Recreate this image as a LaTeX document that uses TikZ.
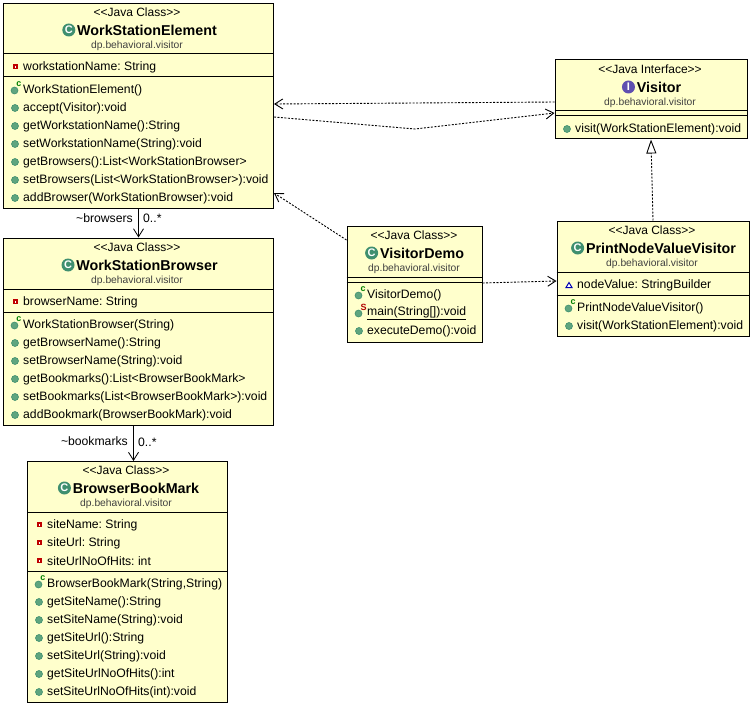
\documentclass[tikz,border=0pt]{standalone}
\usepackage{fontspec}
\setmainfont{Liberation Sans}
\usetikzlibrary{arrows.meta,positioning}

\definecolor{cajaFondo}{HTML}{FFFFCC}
\definecolor{verdeIcono}{HTML}{5FA57F}
\definecolor{verdeClase}{HTML}{3F8F6F}
\definecolor{moradoIcono}{HTML}{5F4FB0}

\tikzset{
	clase/.style={draw=black,fill=cajaFondo,line width=1pt,inner sep=0pt},
	estereotipo/.style={inner sep=0pt,font=\fontsize{12}{12}\selectfont},
	nombre/.style={inner sep=0pt,font=\fontsize{14.3}{14}\selectfont\bfseries},
	paquete/.style={inner sep=0pt,text=black!75,font=\fontsize{10.3}{10}\selectfont},
	miembro/.style={inner sep=0pt,anchor=west,yshift=-1.5pt,font=\fontsize{12.2}{12}\selectfont\frenchspacing},
	icono/.style={circle,inner sep=0pt,minimum size=13pt,fill=#1,text=white,font=\fontsize{11}{11}\selectfont\bfseries},
	punto/.style={fill=verdeIcono,draw=verdeClase,line width=.6pt},
	privado/.style={fill=white,draw=red!75!black,line width=1.2pt},
	marca/.style={inner sep=0pt,font=\fontsize{9}{9}\selectfont\bfseries},
	uso/.style={line width=.9pt,dash pattern=on 2pt off 1.5pt,-{Straight Barb[length=8pt,width=10pt]}},
	asociacion/.style={line width=.8pt,-{Straight Barb[length=8pt,width=10pt]}},
	etiqueta/.style={inner sep=0pt,font=\fontsize{12.2}{12}\selectfont}
}

\begin{document}
\begin{tikzpicture}[x=1pt,y=-1pt]
\useasboundingbox (0,0) rectangle (752,706);

%Cajas de las clases
\node [clase,minimum width=270pt,minimum height=205pt] (wsElement) at (138.5,106) {};
\node [clase,minimum width=270pt,minimum height=187pt] (wsBrowser) at (138.5,331.5) {};
\node [clase,minimum width=200pt,minimum height=241pt] (bookMark) at (127.5,582) {};
\node [clase,minimum width=192pt,minimum height=79pt] (visitor) at (651,99.5) {};
\node [clase,minimum width=135pt,minimum height=116pt] (visitorDemo) at (414.5,284) {};
\node [clase,minimum width=192pt,minimum height=115pt] (printVisitor) at (653,278.5) {};

%Lineas que separan los compartimentos
\foreach \c/\y in {wsElement/54,wsElement/77,wsBrowser/289,wsBrowser/312,bookMark/512,bookMark/571,visitor/111,visitor/116,visitorDemo/277,visitorDemo/282,printVisitor/272,printVisitor/295}
	\draw [line width=1pt] (\c.west |- 0,\y) -- (\c.east |- 0,\y);

%Cabeceras
\node [estereotipo] (wsElementTipo) at (137,12.5) {<{}<Java Class>{}>};
\node [nombre] (wsElementNombre) at (147,30) {WorkStationElement};
\node [icono=verdeClase,left=1.5pt of wsElementNombre] (wsElementIcono) {C};
\node [paquete] (wsElementPaquete) at (137,46) {dp.behavioral.visitor};

\node [estereotipo] (wsBrowserTipo) at (137,247.5) {<{}<Java Class>{}>};
\node [nombre] (wsBrowserNombre) at (147,265) {WorkStationBrowser};
\node [icono=verdeClase,left=1.5pt of wsBrowserNombre] (wsBrowserIcono) {C};
\node [paquete] (wsBrowserPaquete) at (137,281) {dp.behavioral.visitor};

\node [estereotipo] (bookMarkTipo) at (126,470.5) {<{}<Java Class>{}>};
\node [nombre] (bookMarkNombre) at (136,488) {BrowserBookMark};
\node [icono=verdeClase,left=1.5pt of bookMarkNombre] (bookMarkIcono) {C};
\node [paquete] (bookMarkPaquete) at (126,504) {dp.behavioral.visitor};

\node [estereotipo] (visitorTipo) at (650,69.5) {<{}<Java Interface>{}>};
\node [nombre] (visitorNombre) at (659,87) {Visitor};
\node [icono=moradoIcono,left=1.5pt of visitorNombre] (visitorIcono) {I};
\node [paquete] (visitorPaquete) at (650,103) {dp.behavioral.visitor};

\node [estereotipo] (visitorDemoTipo) at (414,235.5) {<{}<Java Class>{}>};
\node [nombre] (visitorDemoNombre) at (422,253) {VisitorDemo};
\node [icono=verdeClase,left=1.5pt of visitorDemoNombre] (visitorDemoIcono) {C};
\node [paquete] (visitorDemoPaquete) at (414,269) {dp.behavioral.visitor};

\node [estereotipo] (printVisitorTipo) at (652,230.5) {<{}<Java Class>{}>};
\node [nombre] (printVisitorNombre) at (661,248) {PrintNodeValueVisitor};
\node [icono=verdeClase,left=1.5pt of printVisitorNombre] (printVisitorIcono) {C};
\node [paquete] (printVisitorPaquete) at (652,264) {dp.behavioral.visitor};

%Atributos privados
\foreach \x/\c/\y/\t in {23/wsElement/66/{workstationName: String},23/wsBrowser/301/{browserName: String},47/bookMark/524/{siteName: String},47/bookMark/542/{siteUrl: String},47/bookMark/560/{siteUrlNoOfHits: int}}{
	\draw [privado] (\x-9,\y-1) rectangle (\x-6,\y+2.6);
	\node [miembro] (\c Atributo\y) at (\x,\y) {\t};
}
%Atributo de paquete
\draw [fill=white,draw=blue!70!black,line width=1pt] (566,287.5) -- (572,287.5) -- (569,282.5) -- cycle;
\node [miembro] (printVisitorAtributo) at (577,284) {nodeValue: StringBuilder};

%Metodos publicos
\foreach \x/\c/\y/\t in {
	23/wsElement/107/{accept(Visitor):void},
	23/wsElement/125/{getWorkstationName():String},
	23/wsElement/143/{setWorkstationName(String):void},
	23/wsElement/161/{getBrowsers():List<WorkStationBrowser>},
	23/wsElement/179/{setBrowsers(List<WorkStationBrowser>):void},
	23/wsElement/197/{addBrowser(WorkStationBrowser):void},
	23/wsBrowser/342/{getBrowserName():String},
	23/wsBrowser/360/{setBrowserName(String):void},
	23/wsBrowser/378/{getBookmarks():List<BrowserBookMark>},
	23/wsBrowser/396/{setBookmarks(List<BrowserBookMark>):void},
	23/wsBrowser/414/{addBookmark(BrowserBookMark):void},
	47/bookMark/601/{getSiteName():String},
	47/bookMark/619/{setSiteName(String):void},
	47/bookMark/637/{getSiteUrl():String},
	47/bookMark/655/{setSiteUrl(String):void},
	47/bookMark/673/{getSiteUrlNoOfHits():int},
	47/bookMark/691/{setSiteUrlNoOfHits(int):void},
	575/visitor/128/{visit(WorkStationElement):void},
	367/visitorDemo/330/{executeDemo():void},
	577/printVisitor/325/{visit(WorkStationElement):void}}{
	\draw [punto] (\x-8,\y+1) circle (3.5);
	\node [miembro] (\c Metodo\y) at (\x,\y) {\t};
}

%Constructores y metodo estatico
\foreach \x/\c/\y/\t in {
	23/wsElement/89/{WorkStationElement()},
	23/wsBrowser/324/{WorkStationBrowser(String)},
	47/bookMark/583/{BrowserBookMark(String,String)},
	367/visitorDemo/294/{VisitorDemo()},
	577/printVisitor/307/{PrintNodeValueVisitor()}}{
	\draw [punto] (\x-8.5,\y+1.5) circle (3.5);
	\node [marca,text=green!50!black] (\c Marca\y) at (\x-4,\y-4.5) {c};
	\node [miembro] (\c Metodo\y) at (\x,\y) {\t};
}
\draw [punto] (358.5,313.5) circle (3.5);
\node [marca,text=red!70!black] (visitorDemoMarca) at (363.5,307) {S};
\node [miembro] (visitorDemoMain) at (367,312) {\underline{main(String[]):void}};

%Dependencias punteadas
\draw [uso] ([yshift=-2.5pt]visitor.west) -- ([yshift=2pt]wsElement.east);
\draw [uso] ([yshift=-11pt]wsElement.east) -- (415,129) -- ([yshift=-13.5pt]visitor.west);
\draw [uso] ([yshift=44pt]visitorDemo.west) -- ([yshift=-87pt]wsElement.east);
\draw [uso] ([yshift=1pt]visitorDemo.east) -- ([yshift=-2.5pt]printVisitor.west);
\draw [line width=.9pt,dash pattern=on 2pt off 1.5pt,-{Triangle[open,length=14pt,width=10pt,fill=white]}] (printVisitor.north) -- (visitor.south);

%Asociaciones
\draw [asociacion] (wsElement.south) -- (wsBrowser.north);
\draw [asociacion] ([xshift=6pt]bookMark.north |- wsBrowser.south) -- ([xshift=6pt]bookMark.north);
\node [etiqueta,anchor=east] (browsersRol) at (133,218) {\textasciitilde browsers};
\node [etiqueta,anchor=west] (browsersMult) at (143,218.5) {0..*};
\node [etiqueta,anchor=east] (bookmarksRol) at (128,441) {\textasciitilde bookmarks};
\node [etiqueta,anchor=west] (bookmarksMult) at (138,442) {0..*};
\end{tikzpicture}
\end{document}
